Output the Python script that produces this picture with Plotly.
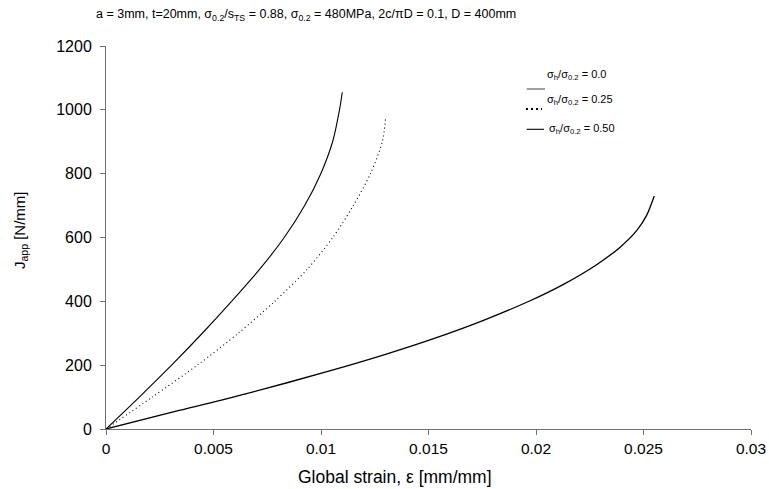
import plotly.graph_objects as go

# Data
strain_00 = [0, 0.00155, 0.00305, 0.00448, 0.00584, 0.00714, 0.00829, 0.00924, 0.00999, 0.01054, 0.01086, 0.01099]
japp_00 = [0, 100, 200, 300, 400, 500, 600, 700, 800, 900, 1000, 1055]

strain_025 = [0, 0.00215, 0.00425, 0.00615, 0.00785, 0.00935, 0.01055, 0.0115, 0.0123, 0.01285, 0.0130]
japp_025 = [0, 100, 200, 300, 400, 500, 600, 700, 800, 900, 972]

strain_050 = [0, 0.0034, 0.0065, 0.0104, 0.0130, 0.0151, 0.0175, 0.0197, 0.0213, 0.0228, 0.0239, 0.0247, 0.02515, 0.0255]
japp_050 = [0, 58, 110, 182, 234, 280, 339, 401, 454, 514, 569, 623, 670, 730]

legend_labels = ["σ<sub>h</sub>/σ<sub>0.2</sub> = 0.0",
                 "σ<sub>h</sub>/σ<sub>0.2</sub> = 0.25",
                 "σ<sub>h</sub>/σ<sub>0.2</sub> = 0.50"]

x_ticks = [0, 0.005, 0.01, 0.015, 0.02, 0.025, 0.03]
x_tick_text = ["0", "0.005", "0.01", "0.015", "0.02", "0.025", "0.03"]
y_ticks = [0, 200, 400, 600, 800, 1000, 1200]

fig = go.Figure()
fig.add_trace(go.Scatter(x=strain_00, y=japp_00, mode="lines",
                         line=dict(color="black", width=1.1, shape="spline", smoothing=0.8),
                         name=legend_labels[0], showlegend=False))
fig.add_trace(go.Scatter(x=strain_025, y=japp_025, mode="lines",
                         line=dict(color="black", width=1.1, dash="1px,3px", shape="spline", smoothing=0.8),
                         name=legend_labels[1], showlegend=False))
fig.add_trace(go.Scatter(x=strain_050, y=japp_050, mode="lines",
                         line=dict(color="black", width=1.3, shape="spline", smoothing=0.8),
                         name=legend_labels[2], showlegend=False))

font_main = "Liberation Sans, Arial, sans-serif"

W, H = 769, 489
L, R, T, B = 106, 18, 46, 60
PW, PH = W - L - R, H - T - B

def px(xp):
    return (xp - L) / PW

def py(yp):
    return (H - B - yp) / PH

fig.update_layout(
    width=W, height=H,
    margin=dict(l=L, r=R, t=T, b=B, autoexpand=False),
    paper_bgcolor="white", plot_bgcolor="white",
    showlegend=False,
    title=dict(text="a = 3mm, t=20mm, σ<sub>0.2</sub>/s<sub>TS</sub> = 0.88, σ<sub>0.2</sub> = 480MPa, 2c/πD = 0.1, D = 400mm",
               x=96 / W, xanchor="left", y=1 - 14 / H, yanchor="middle",
               font=dict(family=font_main, size=12.5, color="black")),
    xaxis=dict(range=[0, 0.03], tickvals=x_ticks, ticktext=x_tick_text, automargin=False,
               showgrid=False, zeroline=False, showline=True, linecolor="#707070", linewidth=1,
               ticks="outside", ticklen=5, tickcolor="#707070", ticklabelstandoff=0,
               tickfont=dict(family=font_main, size=15.5, color="black")),
    yaxis=dict(range=[0, 1200], tickvals=y_ticks, automargin=False,
               showgrid=False, zeroline=False, showline=True, linecolor="#707070", linewidth=1,
               ticks="outside", ticklen=5, tickcolor="#707070", ticklabelstandoff=5,
               tickfont=dict(family=font_main, size=16, color="black")),
)

# Axis titles as annotations (positioned like the reference)
fig.add_annotation(text="Global strain, ε [mm/mm]", xref="paper", yref="paper",
                   x=px(395), y=py(477), xanchor="center", yanchor="middle",
                   showarrow=False, font=dict(family=font_main, size=17.5, color="black"))
fig.add_annotation(text="J<sub>app</sub> [N/mm]", xref="paper", yref="paper",
                   x=px(21), y=py(230), xanchor="center", yanchor="middle",
                   textangle=-90, showarrow=False, font=dict(family=font_main, size=15, color="black"))

# Manual legend (Excel-like layout)
leg_lines = [
    dict(x0=526.7, x1=545, y=89, color="#808080", width=1.5, dash="solid"),
    dict(x0=526, x1=542, y=109, color="black", width=2, dash="2px,3px"),
    dict(x0=526.7, x1=544, y=129.3, color="black", width=1.1, dash="solid"),
]
leg_text = [(545, 75), (545, 100), (546.5, 128.5)]
for ln, (tx, ty), lab in zip(leg_lines, leg_text, legend_labels):
    fig.add_shape(type="line", xref="paper", yref="paper", x0=px(ln["x0"]), x1=px(ln["x1"]),
                  y0=py(ln["y"]), y1=py(ln["y"]),
                  line=dict(color=ln["color"], width=ln["width"], dash=ln["dash"]))
    fig.add_annotation(text=lab, xref="paper", yref="paper", x=px(tx), y=py(ty),
                       xanchor="left", yanchor="middle", showarrow=False,
                       font=dict(family=font_main, size=11, color="black"))

fig.write_html("out.html", config={"displayModeBar": False},
               post_script="document.body.style.margin='0';document.body.style.overflow='hidden';"
                           "document.documentElement.style.overflow='hidden';")
